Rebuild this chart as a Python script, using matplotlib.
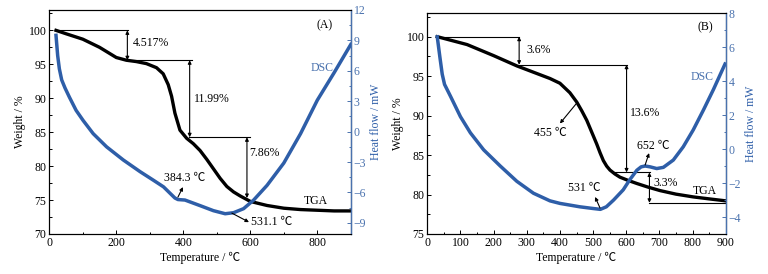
import matplotlib
matplotlib.use("Agg")
import matplotlib.pyplot as plt
from matplotlib.ticker import MultipleLocator

plt.rcParams["font.family"] = ["Liberation Serif", "Noto Sans CJK SC"]
plt.rcParams["font.size"] = 8.5
plt.rcParams["axes.unicode_minus"] = True

FS = 8.5

# ── Data: panel A ────────────────────────────────────────────────────
tga_a_x = [20, 50, 100, 150, 180, 200, 230, 260, 290, 320, 340, 355, 365, 375,
           390, 410, 430, 450, 470, 490, 510, 530, 550, 570, 600, 650, 700,
           750, 800, 850, 900]
tga_a_y = [100, 99.5, 98.7, 97.5, 96.6, 96.0, 95.6, 95.4, 95.1, 94.5, 93.6,
           92.0, 90.3, 87.8, 85.3, 84.1, 83.3, 82.3, 81.0, 79.6, 78.2, 77.0,
           76.2, 75.6, 74.8, 74.2, 73.8, 73.6, 73.5, 73.4, 73.4]

dsc_a_x = [20, 25, 30, 37, 47, 60, 80, 101, 131, 171, 221, 271, 311, 341, 361,
           375, 384, 405, 450, 490, 525, 550, 580, 610, 650, 700, 750, 800,
           850, 900]
dsc_a_y = [9.5, 7.5, 6.2, 5.1, 4.3, 3.4, 2.1, 1.1, -0.2, -1.5, -2.8, -3.95,
           -4.8, -5.45, -6.1, -6.55, -6.7, -6.75, -7.3, -7.8, -8.1, -8.0, -7.6,
           -6.75, -5.3, -3.1, -0.2, 3.1, 5.8, 8.6]

# step lines: (x_start, x_end, level) and arrows (x, top, bottom, label, text x, text y)
steps_a = [(17, 234, 100.0), (233, 426, 95.6), (417, 598, 84.25)]
arrows_a = [(233, 100.0, 95.6, "4.517%", 248, 98.1),
            (419, 95.6, 84.25, "11.99%", 431, 89.9),
            (590, 84.25, 75.3, "7.86%", 597, 81.9)]

# ── Data: panel B ────────────────────────────────────────────────────
tga_b_x = [30, 120, 200, 270, 320, 370, 400, 430, 451, 466, 481, 496, 511, 521,
           531, 541, 551, 566, 581, 605, 632, 665, 702, 750, 802, 850, 900]
tga_b_y = [100, 99.0, 97.6, 96.3, 95.5, 94.7, 94.1, 92.9, 91.7, 90.6, 89.4,
           87.9, 86.4, 85.3, 84.3, 83.6, 83.1, 82.6, 82.2, 81.8, 81.4, 80.95,
           80.5, 80.05, 79.7, 79.45, 79.2]

dsc_b_x = [30, 38, 45, 52, 70, 100, 130, 170, 220, 270, 320, 370, 400, 460,
           500, 522, 540, 562, 591, 611, 632, 645, 657, 672, 692, 712, 742,
           772, 802, 833, 863, 898]
dsc_b_y = [6.6, 5.4, 4.4, 3.8, 3.1, 1.9, 0.95, -0.05, -1.0, -1.9, -2.6, -3.05,
           -3.2, -3.4, -3.5, -3.55, -3.4, -3.0, -2.4, -1.8, -1.25, -1.05, -1.0,
           -1.05, -1.15, -1.08, -0.65, 0.13, 1.12, 2.3, 3.5, 5.0]

steps_b = [(30, 277, 100.0), (277, 603, 96.45), (556, 672, 82.8), (670, 900, 78.95)]
arrows_b = [(277, 100.0, 96.45, "3.6%", 300, 98.26),
            (601, 96.45, 82.8, "13.6%", 612, 90.3),
            (670, 82.8, 78.95, "3.3%", 681, 81.5)]

BLUE = "#2E5EA8"
AXBLUE = "#4A72AE"


def setup(ax, ax2, ylim, y2lim, ymaj, ymin, y2maj, y2min, xmaj, xmin):
    ax.set_xlim(0, 900)
    ax.set_ylim(*ylim)
    ax2.set_ylim(*y2lim)
    ax.xaxis.set_major_locator(MultipleLocator(xmaj))
    ax.xaxis.set_minor_locator(MultipleLocator(xmin))
    ax.yaxis.set_major_locator(MultipleLocator(ymaj))
    ax.yaxis.set_minor_locator(MultipleLocator(ymin))
    ax2.yaxis.set_major_locator(MultipleLocator(y2maj))
    ax2.yaxis.set_minor_locator(MultipleLocator(y2min))
    ax.tick_params(which="both", direction="in", labelsize=FS, width=0.7,
                   top=False, right=False, pad=2)
    ax.tick_params(which="major", length=3)
    ax.tick_params(which="minor", length=1.8)
    ax2.tick_params(which="both", direction="in", labelsize=FS, width=0.7,
                    colors=AXBLUE, labelcolor=AXBLUE, pad=2)
    ax2.tick_params(which="major", length=3)
    ax2.tick_params(which="minor", length=1.8)
    for s in ax.spines.values():
        s.set_linewidth(0.8)
    ax2.spines["right"].set_color(AXBLUE)
    ax2.spines["right"].set_linewidth(1.0)
    ax.set_xlabel("Temperature / ℃", fontsize=FS, labelpad=2)
    ax.set_ylabel("Weight / %", fontsize=FS, labelpad=2)
    ax2.set_ylabel("Heat flow / mW", fontsize=FS, color=BLUE, labelpad=3)


def draw_steps(ax, steps, arrows):
    for x0, x1, lvl in steps:
        ax.plot([x0, x1], [lvl, lvl], color="black", lw=0.8, zorder=2)
    for x, top, bot, lab, tx, ty in arrows:
        ax.annotate("", xy=(x, bot), xytext=(x, top),
                    arrowprops=dict(arrowstyle="<|-|>", color="black", lw=0.8,
                                    mutation_scale=5, shrinkA=0, shrinkB=0))
        ax.text(tx, ty, lab, ha="left", va="center", fontsize=FS)


def pointer(ax, tail, head, label, txy, ha="center"):
    ax.annotate("", xy=head, xytext=tail,
                arrowprops=dict(arrowstyle="-|>", color="black", lw=0.8,
                                mutation_scale=5, shrinkA=0, shrinkB=0))
    ax.text(txy[0], txy[1], label, ha=ha, va="center", fontsize=FS)


fig = plt.figure(figsize=(7.68, 2.74), dpi=100)

# ── Panel A ──────────────────────────────────────────────────────────
axA = fig.add_axes([49.3 / 768, 40 / 274, 301.5 / 768, 224 / 274])
axA2 = axA.twinx()
setup(axA, axA2, (70, 103), (-10.1, 12), 5, 2.5, 3, 1.5, 200, 100)
axA.plot(tga_a_x, tga_a_y, color="black", lw=2.4, zorder=3)
axA2.plot(dsc_a_x, dsc_a_y, color=BLUE, lw=2.5, zorder=3)
draw_steps(axA, steps_a, arrows_a)
pointer(axA2, (384, -6.46), (399, -5.47), "384.3 ℃", (405, -4.6))
pointer(axA2, (545, -8.04), (596, -8.93), "531.1 ℃", (603, -8.9), ha="left")
axA.text(795, 74.8, "TGA", ha="center", va="center", fontsize=FS)
axA2.text(815, 6.25, "DSC", ha="center", va="center", fontsize=FS, color=AXBLUE)
axA.text(822, 100.7, "(A)", ha="center", va="center", fontsize=FS)

# ── Panel B ──────────────────────────────────────────────────────────
axB = fig.add_axes([427.3 / 768, 40 / 274, 298.4 / 768, 221 / 274])
axB2 = axB.twinx()
setup(axB, axB2, (75, 103), (-5, 8), 5, 2.5, 2, 1, 100, 50)
axB.plot(tga_b_x, tga_b_y, color="black", lw=2.4, zorder=3)
axB2.plot(dsc_b_x, dsc_b_y, color=BLUE, lw=2.5, zorder=3)
draw_steps(axB, steps_b, arrows_b)
pointer(axB, (451, 91.6), (400, 89.0), "455 ℃", (370, 87.75))
pointer(axB2, (521, -3.47), (506, -2.82), "531 ℃", (472, -2.3))
pointer(axB2, (657, -0.94), (669, -0.24), "652 ℃", (680, 0.19))
axB.text(838, 80.5, "TGA", ha="center", va="center", fontsize=FS)
axB2.text(829, 4.22, "DSC", ha="center", va="center", fontsize=FS, color=AXBLUE)
axB.text(840, 101.2, "(B)", ha="center", va="center", fontsize=FS)

fig.savefig("out.png", dpi=100, facecolor="white")
